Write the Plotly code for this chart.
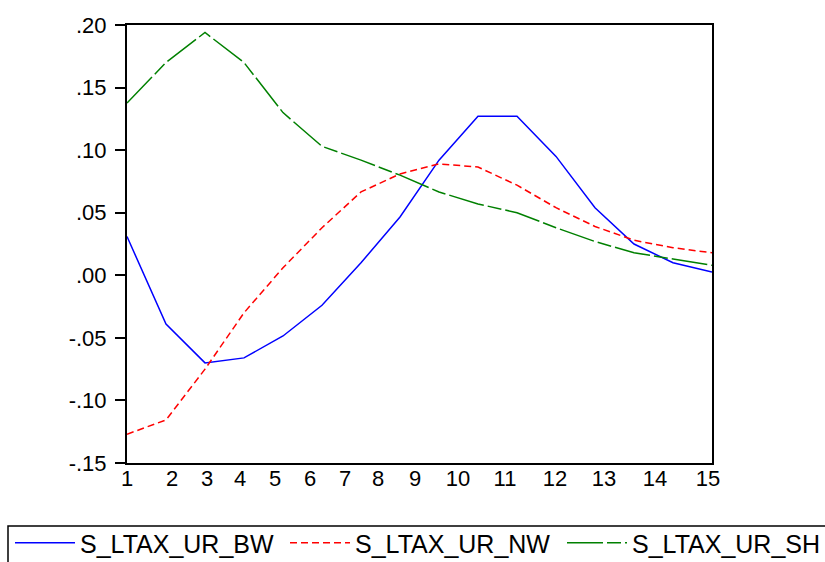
import plotly.graph_objects as go

# ---- data ----
periods = list(range(1, 17))
s_ltax_ur_bw = [0.031, -0.039, -0.070, -0.066, -0.0485, -0.024, 0.010, 0.0466,
                0.092, 0.127, 0.127, 0.095, 0.054, 0.025, 0.010, 0.0026]
s_ltax_ur_nw = [-0.127, -0.1156, -0.075, -0.030, 0.006, 0.038, 0.0666, 0.081,
                0.089, 0.0865, 0.072, 0.054, 0.039, 0.028, 0.022, 0.018]
s_ltax_ur_sh = [0.1377, 0.170, 0.194, 0.170, 0.130, 0.103, 0.092, 0.080,
                0.0666, 0.057, 0.050, 0.038, 0.027, 0.018, 0.013, 0.008]

y_tick_values = [0.20, 0.15, 0.10, 0.05, 0.00, -0.05, -0.10, -0.15]
y_tick_labels = [".20", ".15", ".10", ".05", ".00", "-.05", "-.10", "-.15"]
x_tick_labels = [str(i) for i in range(1, 16)]

# ---- layout helpers ----
W, H = 825, 562
L, R, T, B = 127, 113, 25, 99
plot_w = W - L - R
plot_h = H - T - B
x_label_px = [127, 172, 207, 240, 275, 310, 345, 378, 415, 458, 505, 555, 604, 655, 708]
x_tick_vals = [1 + (p - L) / (plot_w / 15) for p in x_label_px]

FONT = "Liberation Sans, Arial, sans-serif"

fig = go.Figure()
fig.add_trace(go.Scatter(x=periods, y=s_ltax_ur_bw, mode="lines", name="S_LTAX_UR_BW",
                         line=dict(color="#0000FF", width=1.5), legend="legend"))
fig.add_trace(go.Scatter(x=periods, y=s_ltax_ur_nw, mode="lines", name="S_LTAX_UR_NW",
                         line=dict(color="#FF0000", width=1.5, dash="7px,4px"),
                         legend="legend2"))
fig.add_trace(go.Scatter(x=periods, y=s_ltax_ur_sh, mode="lines", name="S_LTAX_UR_SH",
                         line=dict(color="#008000", width=1.5, dash="36px,4px,14px,4px"),
                         legend="legend3"))

def px_to_paper_x(p):
    return (p - L) / plot_w

def px_to_paper_y(p):
    return (H - B - p) / plot_h

def legend_at(px):
    return dict(
        orientation="h",
        x=px_to_paper_x(px), xanchor="left",
        y=px_to_paper_y(543), yanchor="middle",
        font=dict(family=FONT, size=25, color="black"),
        bgcolor="rgba(0,0,0,0)", borderwidth=0,
        itemwidth=60,
        itemclick=False, itemdoubleclick=False,
    )

fig.update_layout(
    width=W, height=H,
    margin=dict(l=L, r=R, t=T, b=B, pad=0, autoexpand=False),
    paper_bgcolor="white", plot_bgcolor="white",
    font=dict(family=FONT, color="black", size=22),
    showlegend=True,
    legend=legend_at(10),
    legend2=legend_at(285),
    legend3=legend_at(562),
    xaxis=dict(
        range=[1, 16], showgrid=False, zeroline=False,
        showline=True, linecolor="black", linewidth=2, mirror=True,
        tickmode="array", tickvals=x_tick_vals, ticktext=x_tick_labels,
        ticks="", ticklabelstandoff=-5,
        tickfont=dict(family=FONT, size=22, color="black"),
    ),
    yaxis=dict(
        range=[-0.15, 0.20], showgrid=False, zeroline=False,
        showline=True, linecolor="black", linewidth=2, mirror=True,
        tickmode="array", tickvals=y_tick_values, ticktext=y_tick_labels,
        ticks="outside", ticklen=10, tickwidth=1.5, tickcolor="black",
        ticklabelstandoff=4,
        tickfont=dict(family=FONT, size=22, color="black"),
    ),
    shapes=[dict(type="rect", xref="paper", yref="paper",
                 x0=px_to_paper_x(8), x1=px_to_paper_x(900),
                 y0=px_to_paper_y(526), y1=px_to_paper_y(600),
                 line=dict(color="black", width=1.5), fillcolor="rgba(0,0,0,0)",
                 layer="above")],
)

fig.write_html("out.html")
